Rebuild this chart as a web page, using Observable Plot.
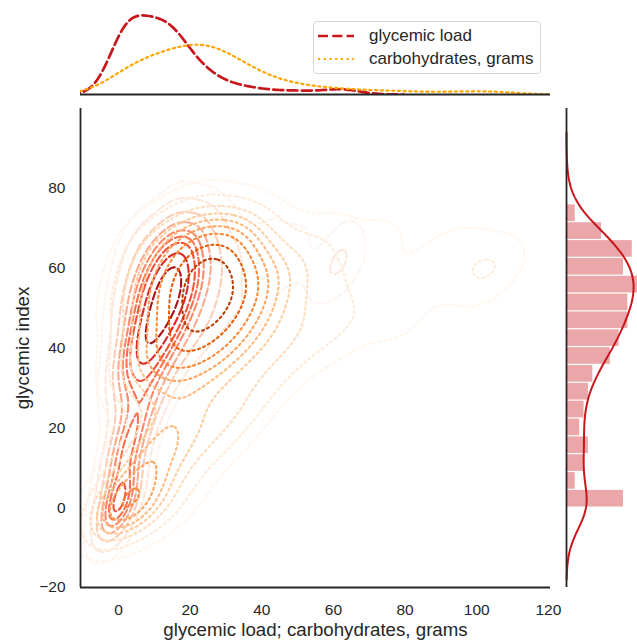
<!DOCTYPE html>
<html><head><meta charset="utf-8">
<script src="https://cdn.jsdelivr.net/npm/d3@7"></script>
<script src="https://cdn.jsdelivr.net/npm/@observablehq/plot@0.6"></script>
<style>
html,body{margin:0;padding:0;background:#fff;overflow:hidden}
#chart{position:relative;width:637px;height:641px;font-family:"Liberation Sans",Arial,sans-serif;color:#262626;overflow:hidden}
#chart > svg{position:absolute;left:0;top:0;max-width:none}
.legend{position:absolute;left:313px;top:21px;width:228px;height:53px;box-sizing:border-box;border:1px solid #d6d6d6;border-radius:4px;background:rgba(255,255,255,0.85);font-size:17px;color:#262626}
.legend .row{position:absolute;left:4px;height:20px;display:flex;align-items:center;white-space:nowrap}
.legend .row svg{margin-right:15px}
</style></head><body><div id="chart"></div>
<script>
// ---- data: one entry per food item ----
const glycemicIndex = [
  0,0,0,0,0,0,0,0,0,0,0,0,2,
  5,8,
  10,11,12,13,
  14,15,15,16,17,
  18,20,22,
  23,24,25,26,
  27,28,29,30,31,
  32,33,34,34,35,35,
  36,36,37,38,38,39,39,40,40,37,
  41,41,42,42,43,43,44,44,42,41,43,44,
  45,45,46,46,47,47,48,48,46,47,48,45,
  49,50,50,51,51,52,52,53,50,51,52,53,49,50,52,53,
  54,54,55,55,56,56,57,57,54,55,56,57,55,56,54,57,55,
  58,58,59,59,60,60,61,61,62,62,58,60,61,59,62,60,
  63,63,64,64,65,65,66,66,63,64,65,66,64,
  67,67,68,68,69,69,70,70,71,68,
  72,76
];
const carbohydrates = [
  0,0,0,0,0,0,1,2,3,5,8,12,18,
  4,10,
  5,12,22,8,
  6,18,10,28,14,
  12,25,35,
  16,30,10,22,
  20,34,12,40,6,
  12,26,45,18,30,4,
  8,22,15,30,18,40,11,22,52,3,
  20,33,10,45,26,15,35,5,60,28,22,19,
  22,40,14,30,25,50,6,35,18,65,28,80,
  20,27,15,40,24,30,4,45,22,33,18,28,55,75,36,10,
  25,20,30,15,35,22,28,42,11,50,27,18,65,100,33,24,3,
  25,30,20,38,27,14,45,22,32,18,85,104,108,55,26,5,
  25,40,18,30,22,8,35,92,98,52,28,12,68,
  20,30,15,42,25,6,35,60,22,75,
  30,20
];
const glycemicLoad = [
  0,0,0,0,0,0,0,0,0,0,0,0,0,
  0,1,
  1,1,3,1,
  1,3,2,4,2,
  2,5,8,
  4,7,3,6,
  5,10,3,12,2,
  4,9,15,6,11,1,
  3,8,6,11,7,16,4,9,21,1,
  8,14,4,19,11,6,15,2,25,11,9,8,
  10,18,6,14,12,24,3,17,8,31,13,36,
  10,14,8,20,12,16,2,24,11,17,9,15,27,38,19,5,
  14,11,17,8,20,12,16,24,6,28,15,10,36,56,18,14,2,
  15,17,12,22,16,8,27,13,20,11,49,62,66,32,16,3,
  16,25,12,19,14,5,23,61,62,33,18,8,44,
  13,20,10,29,17,4,25,42,16,51,
  22,15
];
const xTicks = [0, 20, 40, 60, 80, 100, 120];
const yTicks = [-20, 0, 20, 40, 60, 80];
const xLabel = "glycemic load; carbohydrates, grams";
const yLabel = "glycemic index";
const seriesNames = ["glycemic load", "carbohydrates, grams"];

// ---- layout / style ----
const W = 637, H = 641;
const FL = 80, FR = 550, FT = 108, FB = 587;
const xDomain = [-10.6, 120.6], yDomain = [-20, 100];
const INK = "#262626";
const RED = "#c8161d", ORANGE = "#ffa500";
const BW2D = 0.75, BWTOP = 0.9, BWSIDE = 0.8; // bandwidth adjust
const baseStyle = {background: "transparent", fontFamily: '"Liberation Sans", Arial, sans-serif', fontSize: "15.5px", color: INK};

const foods = glycemicIndex.map((gi, i) => ({gi, gl: glycemicLoad[i], carbs: carbohydrates[i]}));

function kde1d(vals, adjust, G = 200) {
  const n = vals.length, sd = d3.deviation(vals);
  const bw = sd * Math.pow(n, -0.2) * adjust;
  const lo = d3.min(vals) - 3 * bw, hi = d3.max(vals) + 3 * bw;
  return d3.range(G).map(k => {
    const v = lo + k * (hi - lo) / (G - 1);
    let s = 0;
    for (const x of vals) { const z = (v - x) / bw; s += Math.exp(-0.5 * z * z); }
    return {v, d: s / (n * bw * Math.sqrt(2 * Math.PI))};
  });
}

function kdeContours(xs, ys, adjust, interp, tag) {
  const n = xs.length, mx = d3.mean(xs), my = d3.mean(ys);
  let sxx = 0, syy = 0, sxy = 0;
  for (let i = 0; i < n; i++) { const dx = xs[i] - mx, dy = ys[i] - my; sxx += dx * dx; syy += dy * dy; sxy += dx * dy; }
  sxx /= n - 1; syy /= n - 1; sxy /= n - 1;
  const f2 = Math.pow(Math.pow(n, -1 / 6) * adjust, 2);
  const a = sxx * f2, b = sxy * f2, c = syy * f2, det = a * c - b * b;
  const ia = c / det, ib = -b / det, ic = a / det;
  const G = 200;
  const x0 = d3.min(xs) - 3 * Math.sqrt(a), x1 = d3.max(xs) + 3 * Math.sqrt(a);
  const y0 = d3.min(ys) - 3 * Math.sqrt(c), y1 = d3.max(ys) + 3 * Math.sqrt(c);
  const sx = (x1 - x0) / (G - 1), sy = (y1 - y0) / (G - 1);
  const values = new Float64Array(G * G);
  for (let r = 0; r < G; r++) {
    const gy = y0 + r * sy;
    for (let q = 0; q < G; q++) {
      const gx = x0 + q * sx; let s = 0;
      for (let i = 0; i < n; i++) {
        const dx = gx - xs[i], dy = gy - ys[i];
        s += Math.exp(-0.5 * (ia * dx * dx + 2 * ib * dx * dy + ic * dy * dy));
      }
      values[r * G + q] = s;
    }
  }
  const sorted = Array.from(values).sort((p, q) => q - p);
  const total = d3.sum(sorted);
  const cum = []; let acc = 0;
  for (const v of sorted) { acc += v; cum.push(acc / total); }
  const props = d3.range(10).map(k => 0.05 + k * 0.95 / 9);
  const levels = props.map(p => sorted[Math.min(d3.bisectLeft(cum, 1 - p), sorted.length - 1)]);
  const lmin = levels[0], lmax = levels[levels.length - 1];
  const polys = d3.contours().size([G, G]).thresholds(levels.slice(0, -1))(values);
  const pts = []; let id = 0;
  for (const mp of polys) {
    const color = interp((mp.value - lmin) / (lmax - lmin));
    for (const poly of mp.coordinates) for (const ring of poly) {
      id++;
      for (const [gx, gy] of ring) pts.push({x: x0 + (gx - 0.5) * sx, y: y0 + (gy - 0.5) * sy, color, id: tag + id});
    }
  }
  return pts;
}

const glPts = kdeContours(glycemicLoad, glycemicIndex, BW2D, d3.interpolateReds, "gl");
const carbPts = kdeContours(carbohydrates, glycemicIndex, BW2D, d3.interpolateOranges, "cb");

const chart = document.getElementById("chart");

// main joint axes
chart.appendChild(Plot.plot({
  width: W, height: H,
  marginLeft: FL, marginRight: W - FR, marginTop: FT, marginBottom: H - FB,
  x: {domain: xDomain, label: null},
  y: {domain: yDomain, label: null},
  color: {type: "identity"},
  style: baseStyle,
  marks: [
    Plot.line(glPts, {x: "x", y: "y", z: "id", stroke: "color", strokeWidth: 2.1, strokeDasharray: "7.7,3.3", curve: "linear", clip: true}),
    Plot.line(carbPts, {x: "x", y: "y", z: "id", stroke: "color", strokeWidth: 2.1, strokeDasharray: "2.1,3.4", curve: "linear", clip: true}),
    Plot.axisX(xTicks, {tickSize: 0, tickPadding: 16, fontSize: 15.5, fill: INK, label: null}),
    Plot.axisY(yTicks, {tickSize: 0, tickPadding: 15, fontSize: 15.5, fill: INK, label: null}),
    Plot.ruleX([xDomain[0]], {stroke: INK, strokeWidth: 1.8}),
    Plot.ruleY([yDomain[0]], {stroke: INK, strokeWidth: 1.8}),
    Plot.text([yLabel], {text: d => d, frameAnchor: "left", dx: -57, rotate: -90, textAnchor: "middle", lineAnchor: "middle", fontSize: 18.7, fill: INK}),
    Plot.text([xLabel], {text: d => d, frameAnchor: "bottom", dy: 43, textAnchor: "middle", lineAnchor: "middle", fontSize: 18.7, fill: INK})
  ]
}));

// top marginal
const glK = kde1d(glycemicLoad, BWTOP), cbK = kde1d(carbohydrates, BWTOP);
const topMax = d3.max([...glK, ...cbK], d => d.d);
chart.appendChild(Plot.plot({
  width: W, height: H,
  marginLeft: FL, marginRight: W - FR, marginTop: 11, marginBottom: H - 94,
  x: {domain: xDomain, axis: null}, y: {domain: [0, topMax * 1.05], axis: null},
  style: baseStyle,
  marks: [
    Plot.line(glK, {x: "v", y: "d", stroke: RED, strokeWidth: 2.7, strokeDasharray: "10,4.3", clip: true}),
    Plot.line(cbK, {x: "v", y: "d", stroke: ORANGE, strokeWidth: 2.2, strokeDasharray: "2.2,3.5", clip: true}),
    Plot.ruleY([0], {stroke: INK, strokeWidth: 1.8})
  ]
}));

// right marginal
const nBins = 17;
const giLo = d3.min(glycemicIndex), giHi = d3.max(glycemicIndex);
const binW = (giHi - giLo) / nBins;
const edges = d3.range(nBins + 1).map(i => giLo + i * binW);
edges[nBins] += 1e-6;
const giK = kde1d(glycemicIndex, BWSIDE).map(d => ({v: d.v, c: d.d * glycemicIndex.length * binW}));
chart.appendChild(Plot.plot({
  width: W, height: H,
  marginLeft: 566, marginRight: 0, marginTop: FT, marginBottom: H - FB,
  x: {domain: [0, 16.2], axis: null}, y: {domain: yDomain, axis: null},
  style: baseStyle,
  marks: [
    Plot.rectX(foods, Plot.binY({x: "count"}, {y: "gi", thresholds: edges, fill: RED, fillOpacity: 0.38, insetTop: 0.6, insetBottom: 0.6})),
    Plot.line(giK, {x: "c", y: "v", stroke: RED, strokeWidth: 2}),
    Plot.ruleX([0], {stroke: INK, strokeWidth: 1.8})
  ]
}));

// legend
const lg = document.createElement("div");
lg.className = "legend";
lg.innerHTML = `
 <div class="row" style="top:4px"><svg width="36" height="8"><line x1="0" y1="4" x2="36" y2="4" stroke="${RED}" stroke-width="2.7" stroke-dasharray="10,4.3"/></svg><span>${seriesNames[0]}</span></div>
 <div class="row" style="top:27px"><svg width="36" height="8"><line x1="0" y1="4" x2="36" y2="4" stroke="${ORANGE}" stroke-width="2.2" stroke-dasharray="2.2,3.5"/></svg><span>${seriesNames[1]}</span></div>`;
chart.appendChild(lg);
</script></body></html>
